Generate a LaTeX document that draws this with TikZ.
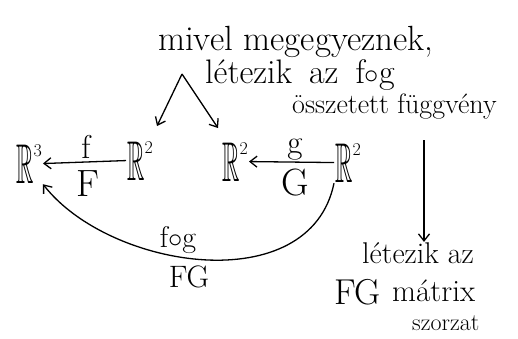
\documentclass[tikz,border=0pt]{standalone}
\usepackage{amssymb}
\usepackage{graphicx}
\usetikzlibrary{arrows.meta}
\newcommand\myR[1]{\scalebox{2.4}[5.6]{$\mathbb{R}$}\raisebox{27pt}{\fontsize{18}{18}\selectfont #1}}
\begin{document}
\begin{tikzpicture}[x=1pt,y=-1pt,
  txt/.style={inner sep=0pt, anchor=base west},
  sp/.style={inner sep=1pt, anchor=base west},
  lbl/.style={inner sep=0pt, font=\fontsize{33}{34}\selectfont},
  big/.style={inner sep=0pt, font=\fontsize{38}{38}\selectfont},
  arr/.style={-{Straight Barb[length=7pt,width=11pt]}, line width=1.3pt},
]
\useasboundingbox[fill=white] (0,0) rectangle (518,338);
% top text
\node[txt, font=\fontsize{35}{35}\selectfont] (t1) at (158,50) {mivel megegyeznek,};
\node[txt, font=\fontsize{34}{34}\selectfont] (t2) at (205,83) {létezik\hspace{0.5em}az\hspace{0.5em}f\scalebox{1.15}{$\circ$}g};
\node[txt, font=\fontsize{28}{30}\selectfont] (t3) at (292,113) {összetett függvény};
% spaces
\node[sp] (r3) at (15,183) {\myR{3}};
\node[sp] (r2a) at (126,180) {\myR{2}};
\node[sp] (r2b) at (221,181) {\myR{2}};
\node[sp] (r2c) at (334,182) {\myR{2}};
% labels
\node[lbl] (lf) at (86,147) {f};
\node[big] (lF) at (88,184) {F};
\node[lbl] (lg) at (295,150) {g};
\node[big] (lG) at (295,183) {G};
\node[lbl, font=\fontsize{30}{30}\selectfont] (lfg) at (178,240) {f\scalebox{1.15}{$\circ$}g};
\node[lbl, font=\fontsize{31}{31}\selectfont] (lFG) at (189,277) {FG};
% bottom right text
\node[txt, font=\fontsize{30}{30}\selectfont] (b1) at (362,263) {létezik az};
\node[txt, font=\fontsize{36}{36}\selectfont] (b2a) at (334,304) {FG};
\node[txt, font=\fontsize{31}{31}\selectfont] (b2b) at (392,301) {mátrix};
\node[txt, font=\fontsize{24}{24}\selectfont] (b3) at (412,330) {szorzat};
% coordinates
\coordinate (apex) at (182,74);
\coordinate (e1) at (157,126);
\coordinate (e2) at (218,128);
\coordinate (vtop) at (424,140);
% arrows
\draw[arr] (apex) -- (e1);
\draw[arr] (apex) -- (e2);
\draw[arr] (r2a.west) -- (r3.east);
\draw[arr] (r2c.west) -- (r2b.east);
\draw[arr] (r2c.south west) .. controls (310,300) and (110,270) .. (r3.south east);
\draw[arr] (vtop) -- (b1.north -| vtop);
\end{tikzpicture}
\end{document}
